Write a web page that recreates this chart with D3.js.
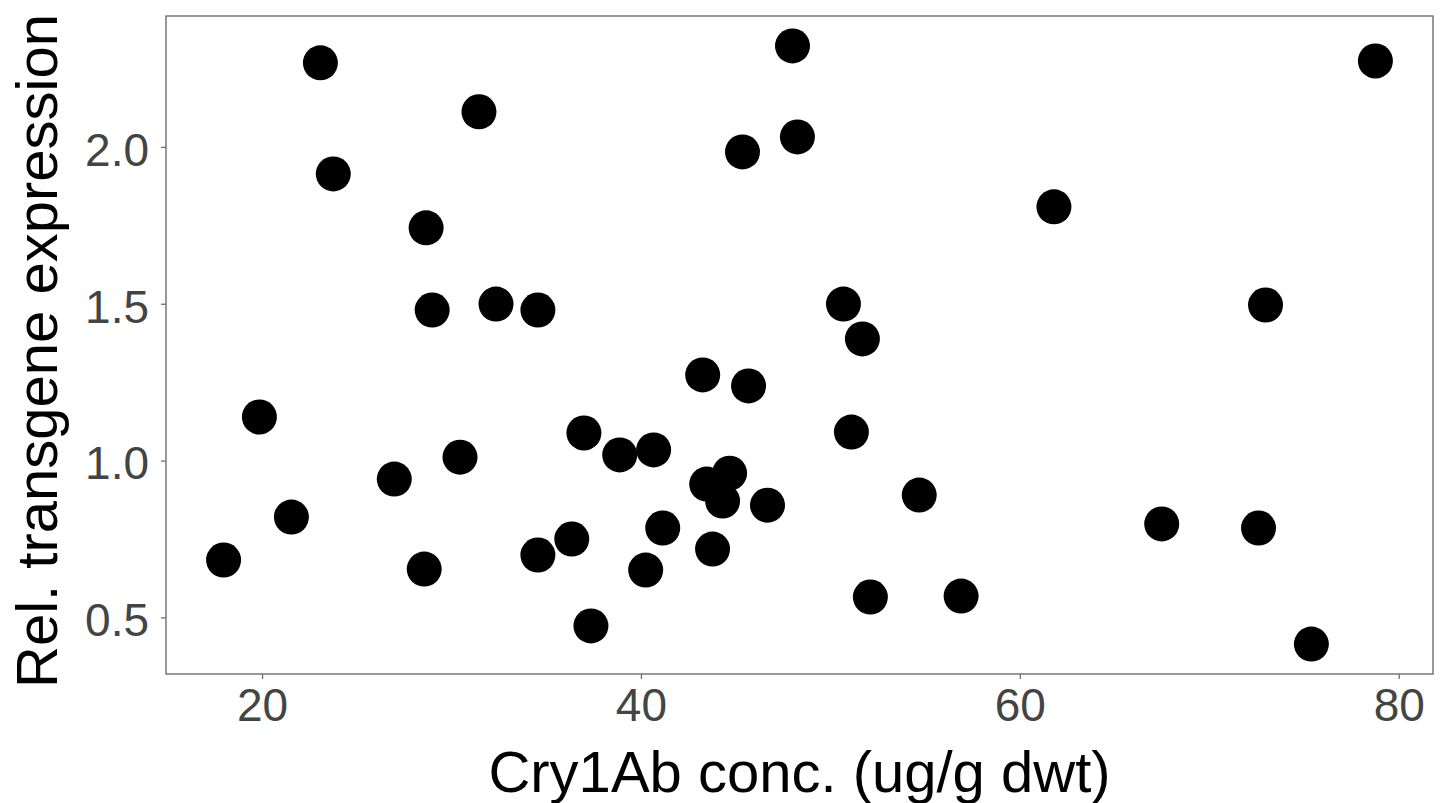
<!DOCTYPE html>
<html>
<head>
<meta charset="utf-8">
<script src="https://cdn.jsdelivr.net/npm/d3@7"></script>
<style>
  html, body { margin: 0; padding: 0; background: #ffffff; }
  svg { display: block; font-family: "Liberation Sans", Arial, Helvetica, sans-serif; }
</style>
</head>
<body>
<svg id="chart" width="1442" height="803"></svg>
<script>
// Cry1Ab concentration (ug/g dry weight) per plant
const cry1abConc = [
  17.97, 19.86, 21.55, 23.08, 23.76, 26.98, 28.56, 28.66, 28.98, 30.45,
  31.45, 32.35, 34.56, 34.56, 36.35, 36.99, 37.36, 38.88, 40.25, 40.67,
  41.15, 43.26, 43.47, 43.78, 44.31, 44.68, 45.36, 45.68, 46.68, 48.00,
  48.26, 50.69, 51.11, 51.69, 52.11, 54.69, 56.90, 61.80, 67.49, 72.60,
  72.97, 75.39, 78.77
];
// Relative transgene expression for the same plants
const relExpression = [
  0.683, 1.139, 0.820, 2.268, 1.914, 0.941, 0.654, 1.742, 1.480, 1.011,
  2.112, 1.499, 0.699, 1.480, 0.750, 1.088, 0.473, 1.018, 0.651, 1.034,
  0.785, 1.273, 0.925, 0.718, 0.871, 0.960, 1.984, 1.238, 0.858, 2.322,
  2.032, 1.499, 1.091, 1.388, 0.565, 0.890, 0.568, 1.809, 0.798, 0.785,
  1.496, 0.415, 2.274
];
const xTicks = [20, 40, 60, 80];
const yTicks = [0.5, 1.0, 1.5, 2.0];
const xTitle = "Cry1Ab conc. (ug/g dwt)";
const yTitle = "Rel. transgene expression";

const points = cry1abConc.map((x, i) => ({ x, y: relExpression[i] }));

const margin = { top: 16, right: 9, bottom: 129, left: 166 };
const W = 1442, H = 803;
const iw = W - margin.left - margin.right;
const ih = H - margin.top - margin.bottom;

// 5% padding around the data range on both axes
function padded(vals) {
  const [lo, hi] = d3.extent(vals);
  const p = (hi - lo) * 0.05;
  return [lo - p, hi + p];
}

const x = d3.scaleLinear().domain(padded(cry1abConc)).range([0, iw]);
const y = d3.scaleLinear().domain(padded(relExpression)).range([ih, 0]);

const svg = d3.select("#chart");
const g = svg.append("g").attr("transform", `translate(${margin.left},${margin.top})`);

const tickColor = "#6e6e6e";
const labelColor = "#444444";

// x axis
const xAxis = g.append("g")
  .attr("transform", `translate(0,${ih})`)
  .call(d3.axisBottom(x).tickValues(xTicks).tickFormat(d3.format("d")).tickSize(5).tickPadding(9));
xAxis.select(".domain").remove();
xAxis.selectAll(".tick line").attr("stroke", tickColor).attr("stroke-width", 1.3);
xAxis.selectAll(".tick text")
  .attr("fill", labelColor)
  .style("font-size", "46px")
  .style("font-family", "'Liberation Sans', Arial, sans-serif");

// y axis
const yAxis = g.append("g")
  .call(d3.axisLeft(y).tickValues(yTicks).tickFormat(d3.format(".1f")).tickSize(5).tickPadding(12));
yAxis.select(".domain").remove();
yAxis.selectAll(".tick line").attr("stroke", tickColor).attr("stroke-width", 1.3);
yAxis.selectAll(".tick text")
  .attr("fill", labelColor)
  .attr("dy", "0.4em")
  .style("font-size", "46px")
  .style("font-family", "'Liberation Sans', Arial, sans-serif");

// panel border
g.append("rect")
  .attr("x", 0).attr("y", 0)
  .attr("width", iw).attr("height", ih)
  .attr("fill", "none")
  .attr("stroke", tickColor)
  .attr("stroke-width", 1.4);

// points
g.append("g")
  .selectAll("circle")
  .data(points)
  .join("circle")
  .attr("cx", d => x(d.x))
  .attr("cy", d => y(d.y))
  .attr("r", 17.5)
  .attr("fill", "#000");

// axis titles
svg.append("text")
  .attr("x", margin.left + iw / 2)
  .attr("y", 792)
  .attr("text-anchor", "middle")
  .attr("fill", "#000")
  .style("font-size", "58px")
  .text(xTitle);

svg.append("text")
  .attr("transform", `translate(57,${margin.top + ih / 2 + 6}) rotate(-90)`)
  .attr("text-anchor", "middle")
  .attr("fill", "#000")
  .style("font-size", "58px")
  .text(yTitle);
</script>
</body>
</html>
